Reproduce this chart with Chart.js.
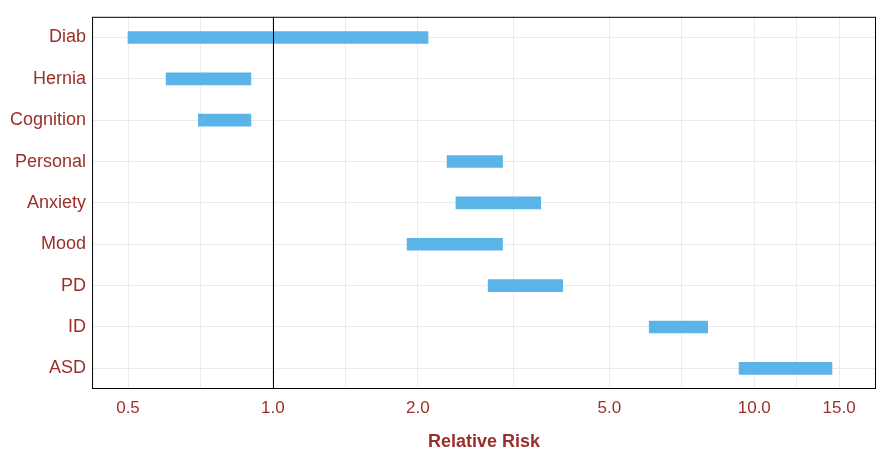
<!DOCTYPE html>
<html>
<head>
<meta charset="utf-8">
<script src="https://cdn.jsdelivr.net/npm/chart.js@4"></script>
<style>
  html, body { margin: 0; padding: 0; background: #fff; }
  #wrap { width: 882px; height: 455px; }
</style>
</head>
<body>
<div id="wrap"><canvas id="c"></canvas></div>
<script>
  const categories = ['Diab', 'Hernia', 'Cognition', 'Personal', 'Anxiety', 'Mood', 'PD', 'ID', 'ASD'];
  const lowRisk  = [0.5, 0.6, 0.7, 2.3, 2.4, 1.9, 2.8, 6.05, 9.3];
  const highRisk = [2.1, 0.9, 0.9, 3.0, 3.6, 3.0, 4.0, 8.0, 14.5];
  const majorTicks = [0.5, 1, 2, 5, 10, 15];
  const minorTicks = [0.707, 1.414, 3.162, 7.071, 12.25];

  const RED = '#9a2f2a';
  const FONT = 'Liberation Sans, Arial, sans-serif';

  // black box round the panel + reference line at RR = 1
  const frame = {
    id: 'frame',
    afterDatasetsDraw(chart) {
      const { ctx, chartArea: a, scales } = chart;
      ctx.save();
      ctx.strokeStyle = '#000'; ctx.lineWidth = 1;
      const x1 = Math.round(scales.x.getPixelForValue(1)) + 0.5;
      ctx.beginPath(); ctx.moveTo(x1, a.top); ctx.lineTo(x1, a.bottom); ctx.stroke();
      ctx.strokeRect(a.left + 0.5, a.top + 0.5, a.width - 1, a.height - 1);
      ctx.restore();
    },
  };

  new Chart(document.getElementById('c'), {
    type: 'bar',
    data: {
      labels: categories,
      datasets: [{ data: categories.map((_, i) => [lowRisk[i], highRisk[i]]), backgroundColor: '#5ab4e8', barThickness: 12, borderSkipped: false }],
    },
    options: {
      indexAxis: 'y', responsive: true, maintainAspectRatio: false, animation: false,
      layout: { padding: { top: 0, right: 6, left: 4, bottom: 2 } },
      plugins: { legend: { display: false }, tooltip: { enabled: false } },
      scales: {
        x: {
          type: 'logarithmic', min: 0.421, max: 17.9,
          afterBuildTicks: (ax) => { ax.ticks = majorTicks.concat(minorTicks).sort((a, b) => a - b).map((v) => ({ value: v })); },
          ticks: {
            autoSkip: false, maxRotation: 0, color: RED, font: { size: 17, family: FONT }, padding: 9,
            callback: (v) => majorTicks.includes(v) ? v.toFixed(1) : '',
          },
          grid: { color: '#ebebeb', drawTicks: false },
          border: { display: false },
          title: { display: true, text: 'Relative Risk', color: RED, font: { size: 18, weight: 'bold', family: FONT }, padding: { top: 4, bottom: 0 } },
        },
        y: {
          ticks: { color: RED, font: { size: 18, family: FONT }, padding: 6 },
          grid: { color: '#ebebeb', offset: false, drawTicks: false },
          border: { display: false },
        },
      },
    },
    plugins: [frame],
  });
</script>
</body>
</html>
